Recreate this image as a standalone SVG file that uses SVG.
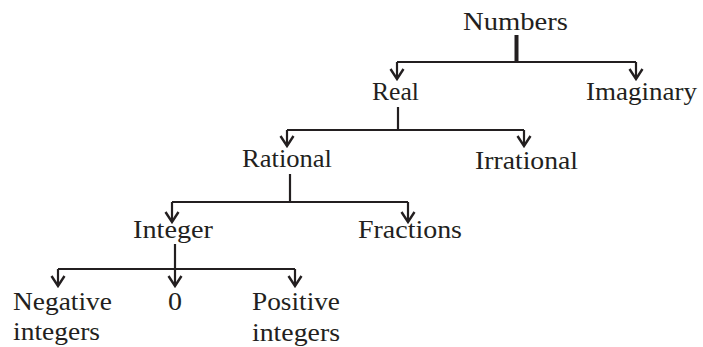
<svg xmlns="http://www.w3.org/2000/svg" width="703" height="347" viewBox="0 0 703 347">
<style>
text{font-family:"Liberation Serif","DejaVu Serif",serif;font-size:26px;fill:#231f20}
.ln{stroke:#231f20;stroke-width:2.2;fill:none}
.st{stroke:#231f20;stroke-width:2.2;fill:none}
.dr{stroke:#231f20;stroke-width:2.2;fill:none;marker-end:url(#ah)}
</style>
<defs>
<marker id="ah" markerUnits="userSpaceOnUse" viewBox="-12 -8 14 16" refX="0" refY="0" markerWidth="14" markerHeight="16" orient="auto">
<path d="M-10,-6.5 L0,0 L-10,6.5" fill="none" stroke="#231f20" stroke-width="2.4"/>
</marker>
</defs>
<g id="connectors">
<path d="M516.5,35 V62" stroke="#231f20" stroke-width="4" fill="none"/>
<path class="ln" d="M397,62 H636"/>
<path class="dr" d="M397,62 V79"/>
<path class="dr" d="M636,62 V79"/>
<path class="st" d="M398,107 V130"/>
<path class="ln" d="M287,130 H524"/>
<path class="dr" d="M287,130 V146"/>
<path class="dr" d="M524,130 V146"/>
<path class="st" d="M290,174 V202"/>
<path class="ln" d="M172,202 H408"/>
<path class="dr" d="M172,202 V222"/>
<path class="dr" d="M408,202 V222"/>
<path class="st" d="M175,244 V269"/>
<path class="ln" d="M58,269 H295"/>
<path class="dr" d="M58,269 V286"/>
<path class="dr" d="M175,269 V286"/>
<path class="dr" d="M295,269 V286"/>
</g>
<g id="numbers"><text x="463" y="30" textLength="105" lengthAdjust="spacingAndGlyphs">Numbers</text></g>
<g id="real"><text x="372" y="100" textLength="47" lengthAdjust="spacingAndGlyphs">Real</text></g>
<g id="imaginary"><text x="586" y="100" textLength="111" lengthAdjust="spacingAndGlyphs">Imaginary</text></g>
<g id="rational"><text x="242" y="167" textLength="90" lengthAdjust="spacingAndGlyphs">Rational</text></g>
<g id="irrational"><text x="475" y="169" textLength="103" lengthAdjust="spacingAndGlyphs">Irrational</text></g>
<g id="integer"><text x="133" y="238" textLength="80" lengthAdjust="spacingAndGlyphs">Integer</text></g>
<g id="fractions"><text x="358" y="238" textLength="104" lengthAdjust="spacingAndGlyphs">Fractions</text></g>
<g id="negative"><text x="13" y="310" textLength="99" lengthAdjust="spacingAndGlyphs">Negative</text><text x="13" y="340" textLength="87" lengthAdjust="spacingAndGlyphs">integers</text></g>
<g id="zero"><text x="168" y="310" textLength="14" lengthAdjust="spacingAndGlyphs">0</text></g>
<g id="positive"><text x="252" y="310" textLength="88" lengthAdjust="spacingAndGlyphs">Positive</text><text x="252" y="341" textLength="88" lengthAdjust="spacingAndGlyphs">integers</text></g>
</svg>
